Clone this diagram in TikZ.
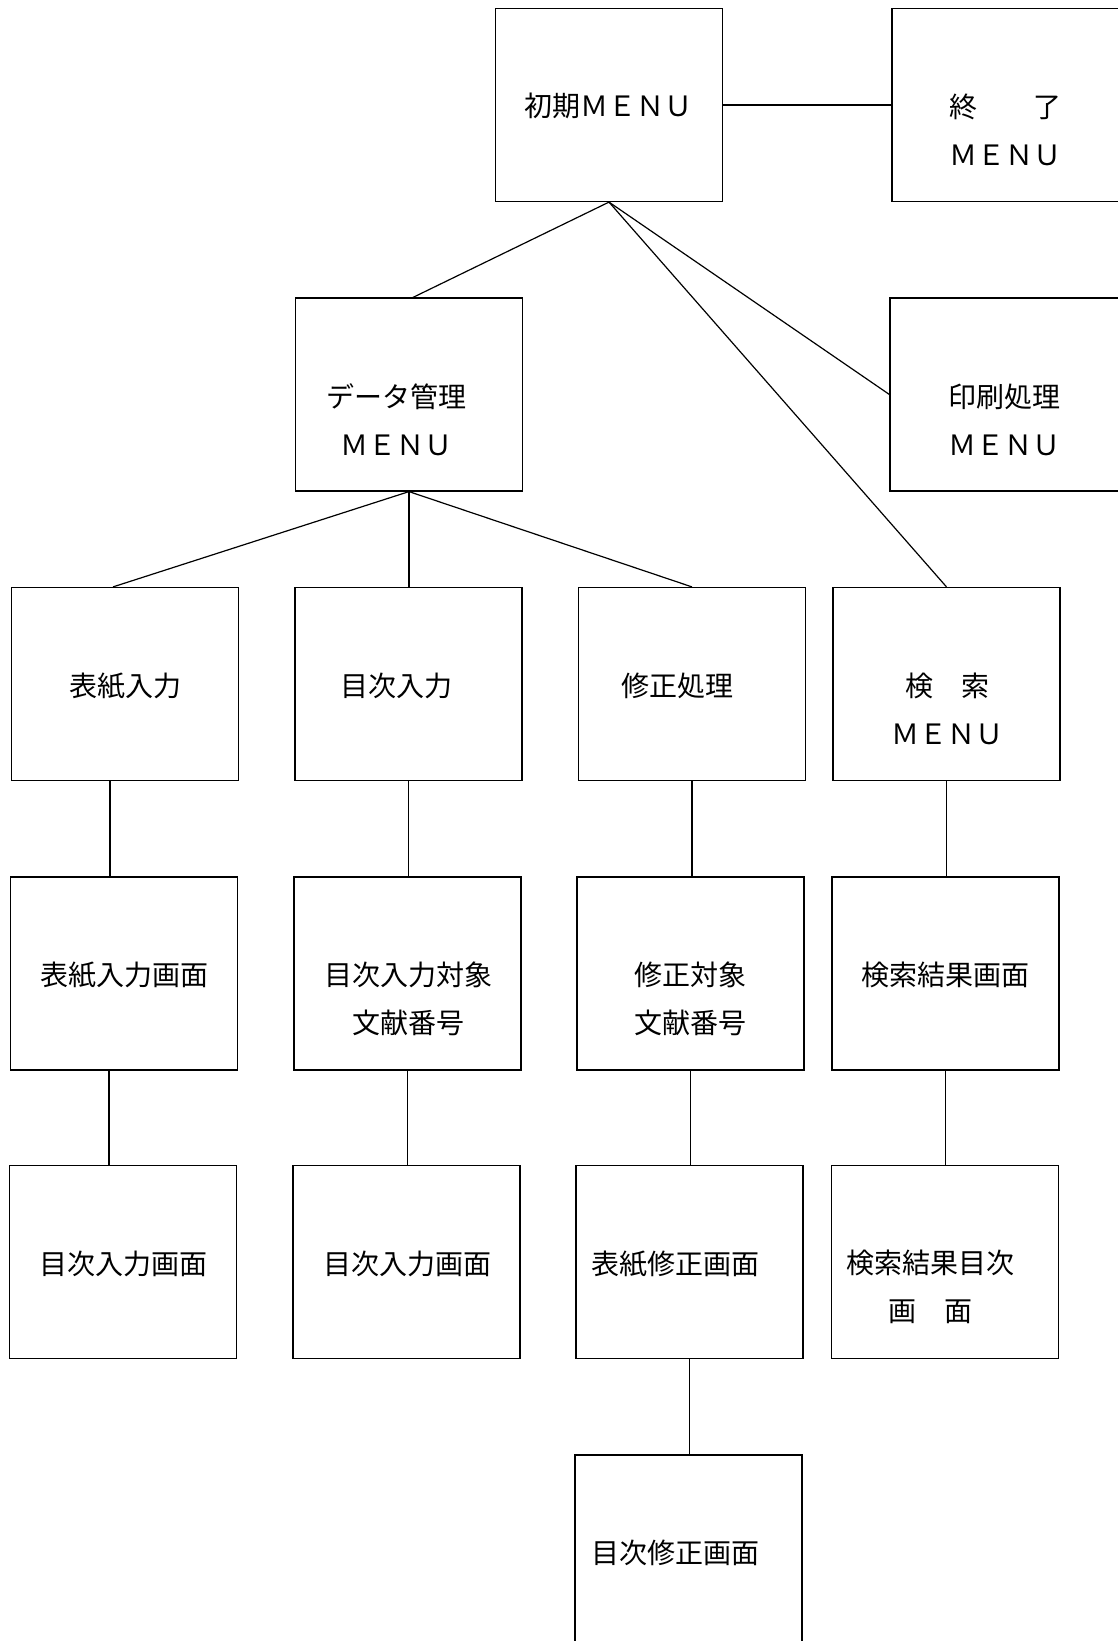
\documentclass[tikz,border=0pt]{standalone}
\usepackage{fontspec}
\newfontfamily\cjk{Noto Sans CJK JP}
\begin{document}
\begin{tikzpicture}[x=1pt,y=-1pt,
  box/.style={draw, line width=1.2pt, minimum width=227pt, minimum height=193pt, inner sep=0pt},
  wbox/.style={box, minimum width=236pt},
  lbl/.style={inner sep=0pt, align=center, font=\cjk\fontsize{28}{48}\selectfont},
  link/.style={line width=1.2pt}]
\useasboundingbox (0,0) rectangle (1118,1641);
% boxes
\node[box]  (b1)  at (609,105) {};
\node[wbox] (b2)  at (1010,105) {};
\node[box]  (b3)  at (409,394.5) {};
\node[wbox] (b4)  at (1008,394.5) {};
\node[box]  (b5)  at (125,684) {};
\node[box]  (b6)  at (408.5,684) {};
\node[box]  (b7)  at (692,684) {};
\node[box]  (b8)  at (946.5,684) {};
\node[box]  (b9)  at (124,973.5) {};
\node[box]  (b10) at (407.5,973.5) {};
\node[box]  (b11) at (690.5,973.5) {};
\node[box]  (b12) at (945.5,973.5) {};
\node[box]  (b13) at (123,1262) {};
\node[box]  (b14) at (406.5,1262) {};
\node[box]  (b15) at (689.5,1262) {};
\node[box]  (b16) at (945,1262) {};
\node[box]  (b17) at (688.5,1551.5) {};
% texts
\node[lbl] (t1)  at (608,106) {初期ＭＥＮＵ};
\node[lbl] (t2)  at (1005,130) {終　　了\\ＭＥＮＵ};
\node[lbl] (t3)  at (396,420) {データ管理\\ＭＥＮＵ};
\node[lbl] (t4)  at (1004,420) {印刷処理\\ＭＥＮＵ};
\node[lbl] (t5)  at (125,686) {表紙入力};
\node[lbl] (t6)  at (396,686) {目次入力};
\node[lbl] (t7)  at (677,686) {修正処理};
\node[lbl] (t8)  at (947,709) {検　索\\ＭＥＮＵ};
\node[lbl] (t9)  at (124,975) {表紙入力画面};
\node[lbl] (t10) at (408,999) {目次入力対象\\文献番号};
\node[lbl] (t11) at (690,999) {修正対象\\文献番号};
\node[lbl] (t12) at (945,975) {検索結果画面};
\node[lbl] (t13) at (123,1264) {目次入力画面};
\node[lbl] (t14) at (407,1264) {目次入力画面};
\node[lbl] (t15) at (675,1264) {表紙修正画面};
\node[lbl] (t16) at (930,1287) {検索結果目次\\画　面};
\node[lbl] (t17) at (675,1553) {目次修正画面};
% connectors
\draw[link] (b1.east) -- (b2.west);
\draw[link] (b1.south) -- ([xshift=4pt]b3.north);
\draw[link] (b1.south) -- (b4.west);
\draw[link] (b1.south) -- (b8.north);
\draw[link] (b3.south) -- ([xshift=-12pt]b5.north);
\draw[link] (b3.south) -- (b3.south |- b6.north);
\draw[link] (b3.south) -- (b7.north);
\draw[link] ([xshift=-15pt]b5.south) -- ([xshift=-15pt]b5.south |- b9.north);
\draw[link] ([xshift=-15pt]b9.south) -- ([xshift=-15pt]b9.south |- b13.north);
\draw[link] (b6.south) -- (b6.south |- b10.north);
\draw[link] (b10.south) -- (b10.south |- b14.north);
\draw[link] (b7.south) -- (b7.south |- b11.north);
\draw[link] (b11.south) -- (b11.south |- b15.north);
\draw[link] (b15.south) -- (b15.south |- b17.north);
\draw[link] (b8.south) -- (b8.south |- b12.north);
\draw[link] (b12.south) -- (b12.south |- b16.north);
\end{tikzpicture}
\end{document}
